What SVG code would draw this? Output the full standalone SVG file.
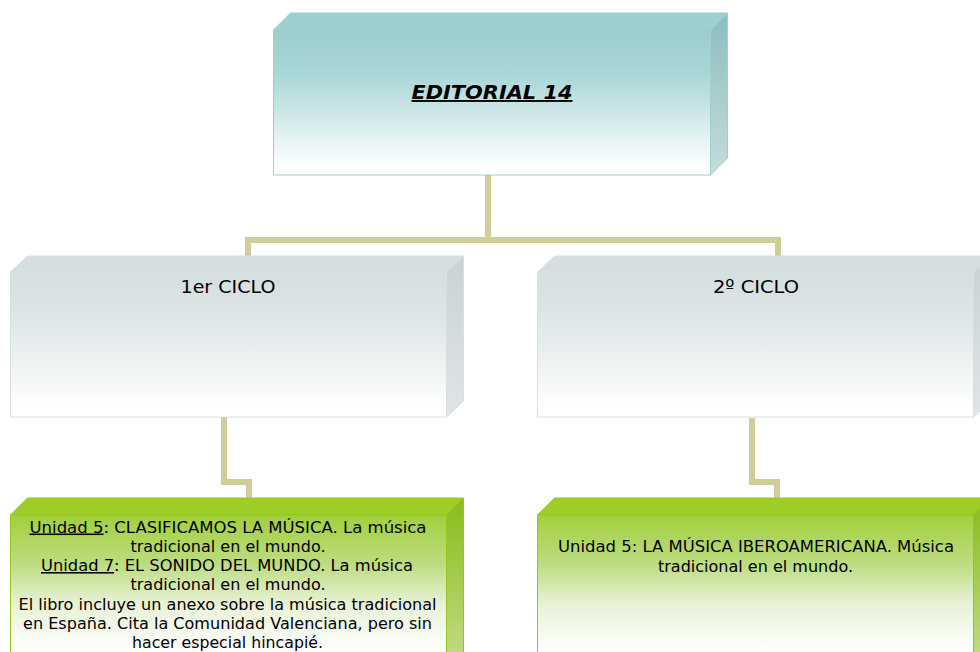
<svg xmlns="http://www.w3.org/2000/svg" width="980" height="652" viewBox="0 0 980 652">
<defs>
<linearGradient id="gTeal" x1="0" y1="0" x2="0" y2="1">
<stop offset="0" stop-color="#9bcdcd"/><stop offset="0.3" stop-color="#a9d6d6"/><stop offset="0.95" stop-color="#ffffff"/>
</linearGradient>
<linearGradient id="gTealSide" x1="0" y1="0" x2="0" y2="1">
<stop offset="0" stop-color="#8cbebd"/><stop offset="1" stop-color="#c4dcdc"/>
</linearGradient>
<linearGradient id="gGrey" x1="0" y1="0" x2="0" y2="1">
<stop offset="0" stop-color="#d5dfe0"/><stop offset="0.3" stop-color="#dde5e6"/><stop offset="0.95" stop-color="#ffffff"/>
</linearGradient>
<linearGradient id="gGreySide" x1="0" y1="0" x2="0" y2="1">
<stop offset="0" stop-color="#c9d3d4"/><stop offset="1" stop-color="#dfe5e6"/>
</linearGradient>
<linearGradient id="gGreen" x1="0" y1="0" x2="0" y2="1">
<stop offset="0" stop-color="#a2cf3c"/><stop offset="0.3" stop-color="#bcdc80"/><stop offset="0.55" stop-color="#e8f2d6"/><stop offset="0.85" stop-color="#ffffff"/>
</linearGradient>
<linearGradient id="gGreenSide" x1="0" y1="0" x2="0" y2="1">
<stop offset="0" stop-color="#88bb1c"/><stop offset="1" stop-color="#c8df90"/>
</linearGradient>
<style>
.teal{stroke:#9dd0d0;stroke-width:1}
.grey{stroke:#d7e0e1;stroke-width:1}
.green{stroke:#92c81a;stroke-width:1}
.txt{font-family:"DejaVu Sans",Verdana,sans-serif;font-size:15.5px;fill:#000;text-anchor:middle}
.ttl{font-family:"DejaVu Sans",Verdana,sans-serif;font-size:19px;font-weight:bold;font-style:italic;text-decoration:underline;fill:#000;text-anchor:middle}
.lbl{font-family:"DejaVu Sans",Verdana,sans-serif;font-size:18.5px;fill:#000;text-anchor:middle}
.con{fill:none;stroke:#cfcd99;stroke-width:6}
</style>
</defs>
<g id="connectors">
<polyline class="con" points="488,175 488,240"/>
<polyline class="con" points="248,257 248,240 778,240 778,257"/>
<polyline class="con" points="224,417 224,482 249,482 249,499"/>
<polyline class="con" points="752,418 752,482 777,482 777,499"/>
</g>
<g id="editorial">
<polygon points="273.5,30 290.5,13 727.5,13 710.5,30" fill="#9ecfcf" class="teal"/>
<polygon points="710.5,30 727.5,13 727.5,158 710.5,175" fill="url(#gTealSide)" class="teal"/>
<rect x="273.5" y="30" width="437" height="145" fill="url(#gTeal)" class="teal"/>
<text class="ttl" x="492" y="99" textLength="161" lengthAdjust="spacingAndGlyphs">EDITORIAL 14</text>
</g>
<g id="ciclo1">
<polygon points="10.5,272 27.5,256 463.5,256 446.5,272" fill="#d5dfe0" class="grey"/>
<polygon points="446.5,272 463.5,256 463.5,401 446.5,417" fill="url(#gGreySide)" class="grey"/>
<rect x="10.5" y="272" width="436" height="145" fill="url(#gGrey)" class="grey"/>
<text class="lbl" x="228" y="293" textLength="95" lengthAdjust="spacingAndGlyphs">1er CICLO</text>
</g>
<g id="ciclo2">
<polygon points="537.5,272 554.5,256 990.5,256 973.5,272" fill="#d5dfe0" class="grey"/>
<polygon points="973.5,272 990.5,256 990.5,401 973.5,417" fill="url(#gGreySide)" class="grey"/>
<rect x="537.5" y="272" width="436" height="145" fill="url(#gGrey)" class="grey"/>
<text class="lbl" x="756" y="293" textLength="86" lengthAdjust="spacingAndGlyphs">2º CICLO</text>
</g>
<g id="unidad1">
<polygon points="10.5,515 27.5,498 463.5,498 446.5,515" fill="#a0cc28" class="green"/>
<polygon points="446.5,515 463.5,498 463.5,660 446.5,677" fill="url(#gGreenSide)" class="green"/>
<rect x="10.5" y="515" width="436" height="162" fill="url(#gGreen)" class="green"/>
<text class="txt" x="228" y="532.5" textLength="397" lengthAdjust="spacingAndGlyphs"><tspan text-decoration="underline">Unidad 5</tspan>: CLASIFICAMOS LA MÚSICA. La música</text>
<text class="txt" x="228" y="551.5" textLength="195" lengthAdjust="spacingAndGlyphs">tradicional en el mundo.</text>
<text class="txt" x="227" y="571" textLength="372" lengthAdjust="spacingAndGlyphs"><tspan text-decoration="underline">Unidad 7</tspan>: EL SONIDO DEL MUNDO. La música</text>
<text class="txt" x="228" y="590" textLength="195" lengthAdjust="spacingAndGlyphs">tradicional en el mundo.</text>
<text class="txt" x="227.5" y="609.5" textLength="418" lengthAdjust="spacingAndGlyphs">El libro incluye un anexo sobre la música tradicional</text>
<text class="txt" x="227.5" y="629" textLength="409" lengthAdjust="spacingAndGlyphs">en España. Cita la Comunidad Valenciana, pero sin</text>
<text class="txt" x="227.5" y="648" textLength="191" lengthAdjust="spacingAndGlyphs">hacer especial hincapié.</text>
</g>
<g id="unidad2">
<polygon points="537.5,515 554.5,498 990.5,498 973.5,515" fill="#a0cc28" class="green"/>
<polygon points="973.5,515 990.5,498 990.5,660 973.5,677" fill="url(#gGreenSide)" class="green"/>
<rect x="537.5" y="515" width="436" height="162" fill="url(#gGreen)" class="green"/>
<text class="txt" x="756" y="551.5" textLength="396" lengthAdjust="spacingAndGlyphs">Unidad 5: LA MÚSICA IBEROAMERICANA. Música</text>
<text class="txt" x="755.5" y="571.5" textLength="195" lengthAdjust="spacingAndGlyphs">tradicional en el mundo.</text>
</g>
</svg>
